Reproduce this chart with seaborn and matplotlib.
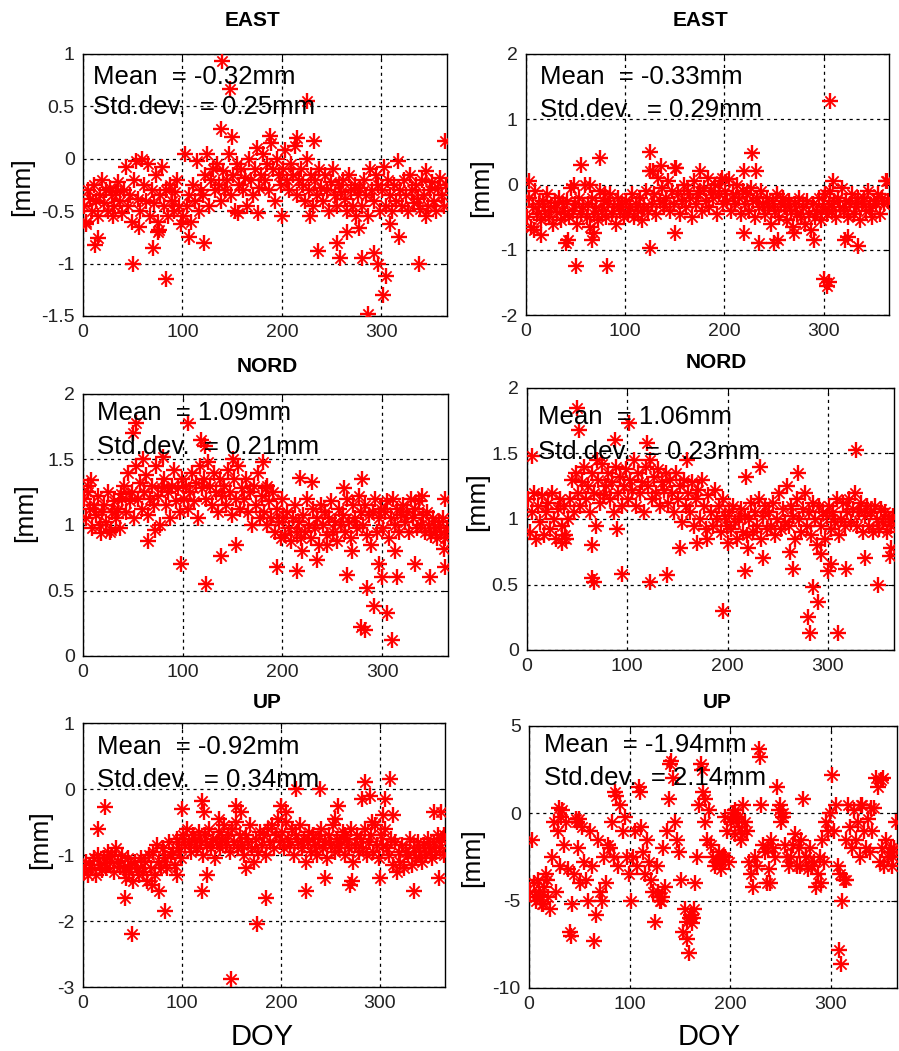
import numpy as np
import pandas as pd
import matplotlib
matplotlib.use('Agg')
import matplotlib.pyplot as plt
import seaborn as sns

sns.set_style('white')
plt.rcParams['font.family'] = ['Liberation Sans', 'DejaVu Sans']
plt.rcParams['text.color'] = 'black'

# day of year for the regular cloud (every 2nd day), outliers listed apart
doy = np.arange(1, 366, 2)

east_a = [
    -0.45, -0.6, -0.3, -0.38, -0.5, -0.25, -0.4, -0.55, -0.35, -0.2,
    -0.42, -0.3, -0.5, -0.28, -0.35, -0.45, -0.32, -0.22, -0.4, -0.52,
    -0.3, -0.08, -0.45, -0.35, -0.6, -0.2, -0.02, -0.38, -0.5, 0.0,
    -0.25, -0.4, -0.05, -0.55, -0.3, -0.42, -0.15, -0.6, -0.35, -0.08,
    -0.45, -0.3, -0.55, -0.25, -0.4, -0.5, -0.32, -0.2, -0.45, -0.62,
    -0.55, 0.05, -0.45, -0.35, -0.6, -0.25, -0.4, -0.02, -0.5, -0.3,
    -0.35, -0.15, 0.05, -0.45, -0.2, -0.1, -0.3, -0.05, -0.25, -0.4,
    -0.12, -0.3, -0.2, 0.05, -0.35, -0.15, -0.5, -0.05, -0.25, -0.1,
    -0.3, -0.18, -0.45, 0.0, -0.2, -0.35, -0.1, 0.1, -0.28, -0.15,
    0.05, -0.2, -0.05, -0.3, 0.15, -0.1, -0.4, 0.0, -0.15, -0.25,
    -0.1, 0.08, -0.2, -0.3, -0.05, -0.15, 0.12, -0.35, -0.2, -0.1,
    -0.25, -0.4, 0.0, -0.3, -0.15, -0.45, -0.2, -0.35, -0.1, -0.28,
    -0.4, -0.15, -0.3, -0.5, -0.22, -0.1, -0.35, -0.45, -0.25, -0.32,
    -0.2, -0.38, -0.5, -0.15, -0.3, -0.45, -0.25, -0.55, -0.35, -0.28,
    -0.45, -0.2, -0.35, -0.55, -0.1, -0.3, -0.4, -0.15, -0.25, -0.5,
    -0.3, -0.08, -0.45, -0.2, -0.35, -0.5, -0.25, -0.4, -0.02, -0.3,
    -0.45, -0.2, -0.35, -0.5, -0.15, -0.3, -0.42, -0.25, -0.38, -0.48,
    -0.2, -0.35, -0.12, -0.45, -0.3, -0.22, -0.4, -0.5, -0.28, -0.18,
    -0.35, -0.45, -0.25,
]
east_a_extra = [
    (3, -0.62), (12, -0.82), (15, -0.76), (50, -1.0), (70, -0.85), (76, -0.68),
    (83, -1.15), (122, -0.8), (140, 0.93), (148, 0.67), (139, 0.28), (150, 0.21),
    (225, 0.55), (232, 0.17), (188, 0.22), (215, 0.2), (236, -0.88), (255, -0.8),
    (258, -0.95), (265, -0.7), (278, -0.66), (281, -0.95), (287, -1.48), (293, -0.9),
    (297, -1.0), (302, -1.3), (305, -1.12), (309, -0.62), (318, -0.75), (338, -1.0),
    (364, 0.17), (228, -0.55), (176, -0.52), (156, -0.52), (107, -0.75), (75, -0.7),
    (30, -0.55), (56, -0.65), (200, -0.55), (345, -0.55),
]

east_b = [
    -0.5, -0.2, -0.65, -0.35, -0.1, -0.45, -0.3, -0.55, -0.25, -0.4,
    -0.15, -0.5, -0.35, -0.6, -0.28, -0.42, -0.2, -0.55, -0.3, -0.45,
    -0.25, -0.5, -0.05, -0.4, -0.3, -0.6, -0.2, -0.45, -0.35, 0.0,
    -0.5, -0.3, -0.65, -0.2, -0.45, -0.35, -0.55, -0.1, -0.4, -0.25,
    -0.5, -0.3, -0.15, -0.45, -0.35, -0.6, -0.2, -0.4, -0.3, -0.5,
    -0.25, -0.45, -0.35, -0.15, -0.5, -0.3, -0.4, -0.2, -0.55, -0.35,
    -0.1, -0.4, 0.2, -0.3, -0.15, -0.45, 0.1, -0.25, -0.05, -0.35,
    -0.2, 0.05, -0.4, -0.1, -0.3, 0.25, -0.15, -0.45, -0.25, 0.0,
    -0.35, -0.1, -0.2, -0.5, 0.05, -0.3, -0.15, 0.2, -0.4, -0.05,
    -0.25, 0.1, -0.35, -0.1, -0.2, 0.0, -0.45, -0.15, 0.05, -0.3,
    -0.1, -0.25, 0.08, -0.4, -0.15, -0.3, 0.0, -0.2, -0.45, -0.1,
    -0.3, -0.15, -0.4, -0.05, -0.25, -0.5, -0.2, -0.35, -0.1, -0.3,
    -0.45, -0.2, -0.35, -0.6, -0.25, -0.4, -0.15, -0.5, -0.3, -0.2,
    -0.35, -0.55, -0.25, -0.4, -0.65, -0.3, -0.45, -0.2, -0.5, -0.35,
    -0.6, -0.25, -0.45, -0.7, -0.3, -0.5, -0.4, -0.2, -0.55, -0.35,
    -0.15, -0.45, -0.3, -0.1, -0.4, -0.25, -0.5, -0.2, -0.35, -0.05,
    -0.4, -0.25, -0.5, -0.3, -0.15, -0.45, -0.35, -0.2, -0.55, -0.3,
    -0.2, -0.4, -0.1, -0.35, -0.5, -0.25, -0.3, -0.15, -0.45, -0.2,
    -0.3, 0.05, -0.25,
]
east_b_extra = [
    (3, 0.05), (8, -0.7), (15, -0.78), (40, -0.9), (42, -0.85), (48, 0.0),
    (50, -1.25), (55, 0.3), (65, 0.0), (67, -0.85), (69, -0.75), (75, 0.4),
    (80, -0.15), (82, -1.25), (125, -0.97), (125, 0.5), (128, 0.2), (150, -0.75),
    (136, 0.28), (150, 0.25), (220, 0.2), (228, 0.48), (232, 0.2), (220, -0.75),
    (235, -0.9), (250, -0.9), (254, -0.85), (300, -1.45), (303, -1.55), (305, -1.5),
    (307, 1.28), (310, 0.05), (322, -0.85), (325, -0.8), (335, -0.95), (364, 0.05),
    (270, -0.75), (290, -0.85), (175, -0.1), (198, 0.1),
]

nord_a = [
    1.2, 1.05, 1.3, 1.12, 0.98, 1.15, 1.08, 1.22, 1.0, 1.1,
    1.15, 1.02, 1.25, 0.95, 1.1, 1.18, 1.05, 1.12, 0.98, 1.2,
    1.3, 1.1, 1.4, 1.18, 1.25, 1.05, 1.45, 1.2, 1.32, 1.12,
    1.25, 1.38, 1.08, 1.2, 1.3, 1.15, 1.45, 1.22, 1.0, 1.28,
    1.35, 1.15, 1.25, 1.05, 1.3, 1.42, 1.18, 1.28, 1.1, 1.35,
    1.2, 1.3, 1.12, 1.25, 1.4, 1.18, 1.32, 1.05, 1.45, 1.28,
    1.35, 1.2, 1.48, 1.3, 1.15, 1.4, 1.25, 1.1, 1.35, 1.22,
    1.3, 1.15, 1.42, 1.25, 1.08, 1.35, 1.2, 1.45, 1.12, 1.28,
    1.2, 1.35, 1.1, 1.25, 1.0, 1.3, 1.15, 1.4, 1.05, 1.22,
    1.1, 1.28, 1.0, 1.18, 1.05, 1.25, 0.95, 1.12, 1.02, 0.9,
    1.05, 0.92, 1.1, 0.98, 0.88, 1.05, 1.15, 0.95, 1.02, 0.9,
    1.08, 0.95, 1.2, 1.0, 0.9, 1.12, 0.98, 1.05, 0.85, 1.15,
    1.0, 1.1, 0.92, 1.05, 1.18, 0.95, 1.02, 0.88, 1.12, 1.0,
    1.08, 0.95, 1.2, 1.02, 0.9, 1.15, 1.05, 0.98, 1.22, 1.1,
    1.0, 1.15, 0.92, 1.08, 0.85, 1.1, 1.2, 0.95, 1.05, 1.12,
    0.98, 1.1, 1.18, 0.9, 1.05, 1.2, 1.0, 1.12, 0.95, 1.08,
    1.15, 1.02, 1.1, 0.95, 1.2, 1.05, 1.12, 0.98, 1.18, 1.0,
    1.08, 0.95, 1.1, 1.0, 0.92, 1.05, 0.98, 0.9, 1.02, 0.95,
    1.05, 0.9, 0.98,
]
nord_a_extra = [
    (5, 1.25), (8, 1.34), (18, 0.94), (28, 0.96), (38, 1.24), (50, 1.7),
    (53, 1.78), (60, 1.5), (65, 0.88), (72, 0.96), (80, 1.52), (98, 0.7),
    (105, 1.78), (118, 1.65), (122, 1.6), (123, 0.55), (138, 0.76), (153, 0.85),
    (150, 1.5), (180, 1.48), (185, 1.3), (195, 0.68), (200, 1.2), (215, 0.65),
    (218, 1.36), (220, 0.8), (230, 1.33), (235, 0.73), (245, 0.85), (262, 1.28),
    (265, 0.62), (270, 0.8), (280, 1.35), (285, 0.52), (279, 0.22), (283, 0.2),
    (292, 0.38), (297, 0.7), (300, 0.6), (305, 0.33), (310, 0.12), (315, 0.6),
    (313, 0.8), (333, 0.7), (340, 1.22), (348, 0.6), (363, 0.68), (362, 0.82),
    (363, 1.2),
]

nord_b = [
    1.15, 0.9, 1.05, 1.2, 0.85, 1.1, 0.98, 1.18, 0.88, 1.05,
    1.12, 0.92, 1.2, 1.0, 0.85, 1.08, 1.15, 0.95, 1.1, 0.85,
    1.0, 1.15, 1.3, 1.05, 1.35, 1.2, 1.1, 1.28, 1.4, 1.15,
    1.25, 1.05, 1.35, 1.2, 0.95, 1.3, 1.12, 1.42, 1.18, 1.25,
    1.35, 1.15, 1.28, 1.05, 1.4, 1.2, 1.32, 1.1, 1.25, 1.38,
    1.15, 1.3, 1.22, 1.45, 1.1, 1.35, 1.2, 1.28, 1.05, 1.4,
    1.25, 1.45, 1.15, 1.32, 1.2, 1.38, 1.1, 1.28, 1.22, 1.35,
    1.12, 1.3, 1.2, 1.05, 1.35, 1.15, 1.25, 0.98, 1.3, 1.1,
    1.2, 1.05, 1.28, 0.95, 1.15, 1.22, 1.0, 1.3, 1.1, 0.92,
    1.18, 1.05, 0.95, 1.22, 1.0, 1.1, 0.9, 1.15, 1.02, 0.95,
    1.05, 0.92, 1.1, 0.98, 0.85, 1.0, 1.08, 0.9, 1.02, 0.88,
    1.0, 1.12, 0.9, 1.05, 0.95, 1.15, 0.85, 1.02, 1.1, 0.92,
    1.05, 0.95, 1.12, 0.88, 1.0, 1.2, 0.92, 1.08, 0.98, 1.25,
    0.95, 1.1, 1.02, 0.85, 1.15, 1.0, 0.9, 1.08, 1.2, 0.95,
    1.05, 0.88, 1.12, 1.0, 0.8, 1.1, 0.95, 1.05, 0.85, 1.02,
    1.1, 0.92, 1.05, 0.98, 1.15, 0.88, 1.0, 1.12, 0.95, 1.05,
    1.15, 0.98, 1.08, 1.2, 0.95, 1.05, 1.12, 0.9, 1.02, 1.1,
    0.95, 1.05, 0.9, 1.1, 1.0, 0.92, 1.08, 0.98, 1.05, 0.9,
    1.0, 0.95, 1.02,
]
nord_b_extra = [
    (5, 1.48), (50, 1.85), (52, 1.68), (88, 1.6), (102, 1.73), (120, 1.58),
    (232, 1.4), (218, 1.32), (328, 1.53), (270, 1.35), (65, 0.55), (67, 0.52),
    (65, 0.8), (95, 0.58), (90, 0.92), (123, 0.52), (140, 0.57), (153, 0.78),
    (170, 0.82), (195, 0.3), (200, 0.82), (217, 0.6), (220, 0.78), (235, 0.7),
    (265, 0.62), (262, 0.75), (285, 0.48), (290, 0.37), (280, 0.25), (282, 0.13),
    (310, 0.13), (300, 0.6), (303, 0.66), (318, 0.62), (337, 0.7), (350, 0.5),
    (362, 0.72), (363, 0.78), (293, 0.73), (180, 0.85), (160, 1.45), (70, 1.45),
    (35, 0.82), (38, 0.88),
]

up_a = [
    -1.25, -1.1, -1.3, -1.15, -1.2, -1.05, -1.3, -1.0, -1.15, -1.22,
    -1.05, -1.2, -0.95, -1.12, -1.0, -1.25, -0.9, -1.1, -1.18, -1.02,
    -1.2, -1.35, -1.05, -1.25, -1.15, -1.4, -1.1, -1.2, -1.3, -1.05,
    -1.25, -1.1, -1.4, -1.0, -1.2, -0.95, -1.3, -0.85, -1.1, -1.2,
    -0.9, -1.05, -1.2, -0.8, -1.0, -0.95, -1.15, -0.75, -0.9, -1.05,
    -0.7, -0.85, -0.6, -0.8, -0.95, -0.7, -0.75, -0.9, -0.65, -0.8,
    -1.0, -0.7, -0.85, -0.6, -0.9, -0.75, -1.05, -0.8, -0.65, -0.9,
    -0.75, -0.55, -0.85, -0.7, -0.95, -0.6, -0.8, -0.5, -0.9, -0.7,
    -0.85, -1.0, -0.7, -0.8, -0.55, -0.9, -1.1, -0.75, -0.95, -0.65,
    -0.85, -0.7, -1.0, -0.6, -0.8, -0.55, -0.9, -0.7, -0.45, -0.8,
    -0.65, -0.9, -0.5, -0.75, -0.85, -0.6, -1.0, -0.7, -0.8, -0.55,
    -0.9, -0.75, -1.1, -0.8, -0.65, -0.95, -0.7, -0.85, -1.0, -0.75,
    -0.6, -0.9, -0.8, -1.05, -0.7, -0.85, -0.55, -0.95, -0.75, -0.9,
    -0.8, -0.65, -1.0, -0.75, -0.9, -0.6, -1.1, -0.85, -0.7, -0.95,
    -0.75, -0.9, -0.6, -1.0, -0.8, -0.7, -0.95, -0.55, -0.85, -1.05,
    -0.7, -0.85, -0.6, -0.9, -1.0, -0.75, -1.15, -0.8, -1.25, -0.95,
    -1.1, -0.85, -1.2, -0.95, -1.0, -0.75, -1.15, -0.9, -1.05, -0.8,
    -0.95, -1.1, -0.85, -1.0, -0.75, -0.9, -1.05, -0.8, -0.95, -0.7,
    -0.9, -0.75, -1.0,
]
up_a_extra = [
    (15, -0.6), (22, -0.28), (42, -1.65), (50, -2.2), (77, -1.55), (70, -1.45),
    (83, -1.85), (95, -1.3), (100, -0.3), (120, -0.18), (122, -0.35), (120, -1.55),
    (125, -1.3), (150, -2.88), (138, -0.45), (155, -0.25), (160, -0.35), (165, -1.2),
    (176, -2.05), (185, -1.65), (200, -0.25), (205, -0.35), (215, 0.0), (225, -1.55),
    (240, 0.0), (245, -1.35), (258, -0.25), (255, -0.45), (265, -0.7), (270, -1.45),
    (272, -1.4), (282, -0.15), (285, 0.1), (290, -0.1), (292, -0.5), (300, -1.35),
    (303, -0.4), (305, -0.15), (310, 0.15), (313, -0.4), (335, -1.55), (355, -0.35),
    (362, -0.35), (360, -1.35), (365, -0.7),
]

up_b = [
    -4.5, -1.5, -4.0, -5.0, -3.8, -4.7, -5.2, -4.2, -3.5, -4.8,
    -5.5, -2.5, -0.5, -4.5, -1.0, -3.0, 0.2, -1.8, -0.5, -3.2,
    -6.8, -5.2, -3.5, -0.3, -2.0, -4.0, -0.8, -2.8, -3.8, -5.0,
    -1.0, -3.0, -7.3, -5.8, -1.5, -4.5, -5.0, -2.5, -4.0, -1.8,
    -2.0, -0.5, -2.5, 1.0, -3.0, 0.5, -1.0, -0.2, -2.5, -3.5,
    -5.0, -2.5, -1.0, -3.0, 1.5, -0.8, -2.2, -3.5, -1.5, -2.8,
    -3.8, -4.5, -6.2, -3.0, -4.8, -5.0, -2.0, -4.2, -1.0, 0.8,
    3.0, 2.0, -0.5, -1.5, -2.2, -3.8, -6.8, -5.5, -6.2, -8.0,
    -5.8, -6.0, -4.0, -2.5, 0.5, 2.8, 1.2, -0.5, -1.5, 0.2,
    -1.8, -2.5, -3.0, -2.8, -2.2, -3.2, -2.5, -0.2, -1.0, -2.8,
    -0.5, 0.0, -1.2, -0.3, -0.8, -1.5, 0.5, -0.5, -1.0, -2.8,
    -3.5, -4.2, -2.5, -3.0, 3.7, 0.5, -1.8, -2.2, -4.0, -3.2,
    -1.5, -2.0, -2.5, 1.5, 0.2, -0.5, 0.0, -1.8, -2.5, -3.0,
    -2.5, -1.8, -1.2, -3.0, -2.0, -1.5, 0.8, -2.5, -3.2, -2.0,
    -3.0, -2.8, -4.2, -3.5, -2.5, -1.5, -2.8, -0.5, -1.0, 0.0,
    2.2, -1.0, 0.5, -3.0, -3.5, -5.0, -3.8, -1.5, 0.5, -0.8,
    -2.0, 0.2, -1.5, -0.5, -2.5, 0.5, -1.0, -2.0, -0.3, -2.2,
    -1.0, 0.3, 2.0, 1.5, -2.8, -2.0, -3.0, -1.5, -2.5, -2.2,
    -3.0, -2.0, -0.5,
]
up_b_extra = [
    (308, -7.8), (310, -8.6), (157, -7.2), (42, -7.0), (86, 1.2), (110, 1.2),
    (140, 2.8), (172, 2.5), (175, 0.8), (230, 3.2), (250, 0.5), (253, -0.2),
    (208, -0.2), (205, 0.2), (212, -1.2), (195, -2.5), (190, -2.8), (14, -5.2),
    (10, -4.5), (6, -4.8), (18, -3.8), (30, 0.3), (32, -0.2), (48, -0.5),
    (50, -0.3), (128, -4.5), (130, -5.0), (132, -4.8), (160, -6.0), (162, -6.3),
    (164, -5.5), (290, -4.0), (315, -3.8), (330, 0.5), (340, 0.3), (350, 1.9),
    (352, 2.0), (360, -2.0), (362, -2.5), (240, -4.0), (238, -2.0), (270, -3.0),
    (275, -2.5),
]

titles = ['EAST', 'EAST', 'NORD', 'NORD', 'UP', 'UP']
series = [east_a, east_b, nord_a, nord_b, up_a, up_b]
extras = [east_a_extra, east_b_extra, nord_a_extra, nord_b_extra, up_a_extra, up_b_extra]
means = ['-0.32', '-0.33', '1.09', '1.06', '-0.92', '-1.94']
stds = ['0.25', '0.29', '0.21', '0.23', '0.34', '2.14']
yticks = [[-1.5, -1, -0.5, 0, 0.5, 1], [-2, -1, 0, 1, 2], [0, 0.5, 1, 1.5, 2],
          [0, 0.5, 1, 1.5, 2], [-3, -2, -1, 0, 1], [-10, -5, 0, 5]]

# layout in pixels: axes (left, right, top, bottom), title centre, ylabel centre, text offsets
W, H = 899, 1051
boxes = [(83, 447, 54, 316), (526, 889, 54, 315), (83, 448, 394, 656),
         (527, 894, 388, 650), (83, 445, 723, 987), (529, 897, 726, 988)]
title_pos = [(252, 21), (701, 21), (267, 367), (716, 362), (267, 703), (717, 703)]
ylab_pos = [(22, 187), (481, 188), (25, 513), (477, 502), (40, 840), (472, 858)]
txt_pos = [(10, 23, 53), (14, 23, 56), (14, 19, 53), (11, 29, 64), (14, 24, 57), (15, 19, 52)]

fig = plt.figure(figsize=(W / 100, H / 100), dpi=100)

for i in range(6):
    l, r, t, b = boxes[i]
    ax = fig.add_axes([l / W, 1 - b / H, (r - l) / W, (b - t) / H])
    ex_d = [d for d, v in extras[i]]
    ex_v = [v for d, v in extras[i]]
    df = pd.DataFrame({'doy': list(doy) + ex_d, 'val': list(series[i]) + ex_v})
    # MATLAB-like asterisk: a plus with a smaller cross on top
    sns.scatterplot(data=df, x='doy', y='val', marker='+', s=120, color='#ff0000',
                    linewidth=1.7, ax=ax, zorder=3)
    sns.scatterplot(data=df, x='doy', y='val', marker='x', s=55, color='#ff0000',
                    linewidth=1.3, ax=ax, zorder=3)
    ax.set_xlim(0, 366)
    ax.set_ylim(yticks[i][0], yticks[i][-1])
    ax.set_xticks([0, 100, 200, 300])
    ax.set_yticks(yticks[i])
    ax.set_yticklabels(['%g' % v for v in yticks[i]])
    ax.set_xlabel('')
    ax.set_ylabel('')
    ax.grid(True, color='black', linestyle=(0, (2.5, 3)), linewidth=0.9)
    ax.set_axisbelow(True)
    ax.tick_params(direction='in', length=4, width=0.8, top=True, right=True,
                   labelsize=14, pad=6, colors='black', labelcolor='#222222')
    for sp in ax.spines.values():
        sp.set_color('black')
        sp.set_linewidth(1.0)

    dx, dy1, dy2 = txt_pos[i]
    ax.text(l / W + dx / W, 1 - (t + dy1) / H, f'Mean  = {means[i]}mm', transform=fig.transFigure,
            fontsize=18.5, color='black', va='center', ha='left', zorder=5)
    ax.text(l / W + dx / W, 1 - (t + dy2) / H, f'Std.dev.  = {stds[i]}mm', transform=fig.transFigure,
            fontsize=18.5, color='black', va='center', ha='left', zorder=5)

    tx, ty = title_pos[i]
    fig.text(tx / W, 1 - ty / H, titles[i], fontsize=15, fontweight='bold', color='black',
             ha='center', va='center')
    yx, yy = ylab_pos[i]
    fig.text(yx / W, 1 - yy / H, '[mm]', fontsize=19, rotation=90, color='black',
             ha='center', va='center')

fig.text(262 / W, 1 - 1037 / H, 'DOY', fontsize=21, color='black', ha='center', va='center')
fig.text(709 / W, 1 - 1037 / H, 'DOY', fontsize=21, color='black', ha='center', va='center')

fig.savefig('out.png', dpi=100)
